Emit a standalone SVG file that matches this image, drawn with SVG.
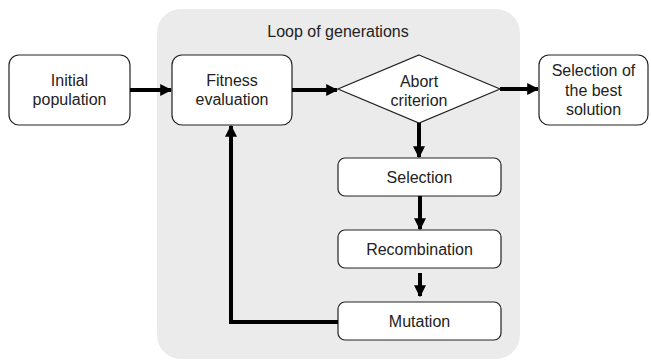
<svg xmlns="http://www.w3.org/2000/svg" width="651" height="360" viewBox="0 0 651 360">
<defs>
<style>
.box{fill:#fff;stroke:#222;stroke-width:1.2}
.t{font-family:"Liberation Sans",Arial,sans-serif;font-size:16px;fill:#222;text-anchor:middle}
.c{fill:none;stroke:#000;stroke-width:4}
</style>
<marker id="ah" viewBox="0 0 10 10" refX="9" refY="5" markerWidth="3" markerHeight="3" orient="auto" markerUnits="strokeWidth">
<path d="M0,0 L10,5 L0,10 Z" fill="#000"/>
</marker>
</defs>
<rect width="651" height="360" fill="#fff"/>
<g id="loop">
<rect x="157" y="9" width="363" height="350" rx="24" fill="#ebebeb"/>
<text class="t" x="338" y="37">Loop of generations</text>
</g>
<g id="initial">
<rect class="box" x="9" y="55" width="121" height="70" rx="10"/>
<text class="t" x="69.5" y="85.5">Initial</text>
<text class="t" x="69.5" y="105">population</text>
</g>
<g id="fitness">
<rect class="box" x="172" y="55" width="120" height="70" rx="10"/>
<text class="t" x="232" y="85.5">Fitness</text>
<text class="t" x="232" y="105">evaluation</text>
</g>
<g id="abort">
<path class="box" d="M419,55 L500,89 L419,123 L338,89 Z"/>
<text class="t" x="419" y="86.5">Abort</text>
<text class="t" x="419" y="105.5">criterion</text>
</g>
<g id="best">
<rect class="box" x="539" y="55" width="109" height="70" rx="10"/>
<text class="t" x="593.5" y="76">Selection of</text>
<text class="t" x="593.5" y="95.5">the best</text>
<text class="t" x="593.5" y="115">solution</text>
</g>
<g id="selection">
<rect class="box" x="338" y="158" width="163" height="38" rx="7"/>
<text class="t" x="419.5" y="182.5">Selection</text>
</g>
<g id="recombination">
<rect class="box" x="338" y="230" width="163" height="38" rx="7"/>
<text class="t" x="419.5" y="254.5">Recombination</text>
</g>
<g id="mutation">
<rect class="box" x="338" y="302" width="163" height="38" rx="7"/>
<text class="t" x="419.5" y="326.5">Mutation</text>
</g>
<g id="connectors">
<line class="c" x1="130" y1="90" x2="171" y2="90" marker-end="url(#ah)"/>
<line class="c" x1="292" y1="90" x2="337" y2="90" marker-end="url(#ah)"/>
<line class="c" x1="500" y1="89" x2="538" y2="89" marker-end="url(#ah)"/>
<line class="c" x1="419" y1="123" x2="419" y2="157" marker-end="url(#ah)"/>
<line class="c" x1="420" y1="196" x2="420" y2="229" marker-end="url(#ah)"/>
<line class="c" x1="420" y1="273" x2="420" y2="296" marker-end="url(#ah)"/>
<polyline class="c" points="338,322 231,322 231,126" marker-end="url(#ah)"/>
</g>
</svg>
